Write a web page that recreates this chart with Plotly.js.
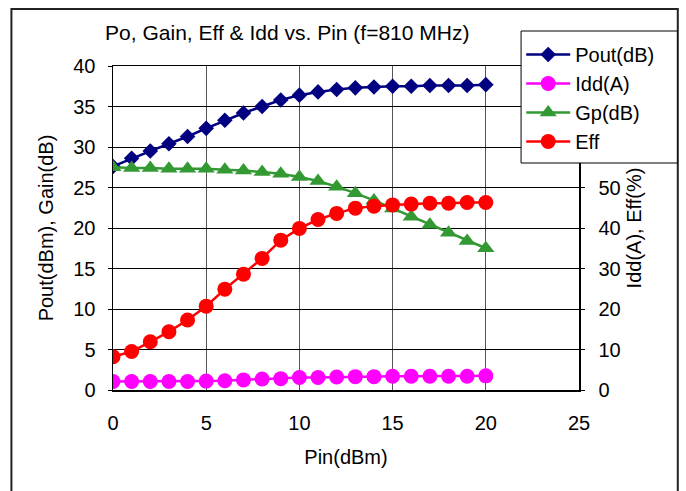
<!DOCTYPE html>
<html>
<head>
<meta charset="utf-8">
<script src="https://cdn.plot.ly/plotly-3.0.1.min.js"></script>
<style>
  html, body { margin: 0; padding: 0; background: #fff; }
  #chart { width: 686px; height: 491px; }
</style>
</head>
<body>
<div id="chart"></div>
<script>
// Data
const pin  = [0,1,2,3,4,5,6,7,8,9,10,11,12,13,14,15,16,17,18,19,20];
const pout = [27.6,28.6,29.5,30.4,31.3,32.3,33.3,34.2,35.0,35.8,36.4,36.8,37.1,37.3,37.4,37.5,37.5,37.6,37.6,37.6,37.7];
const idd  = [2.1,2.1,2.1,2.1,2.1,2.2,2.3,2.5,2.7,2.8,3.1,3.1,3.2,3.3,3.3,3.4,3.4,3.4,3.4,3.4,3.5];
const gp   = [27.5,27.4,27.4,27.3,27.3,27.3,27.2,27.1,26.9,26.7,26.3,25.8,25.1,24.3,23.4,22.4,21.4,20.4,19.4,18.4,17.5];
const eff  = [8.2,9.5,11.9,14.4,17.3,20.7,24.9,28.6,32.5,37.0,39.9,42.1,43.6,44.9,45.4,45.7,45.9,46.1,46.1,46.3,46.3];
// right-axis labels visible in the reference (60-80 are hidden by the legend)
const y2TickVals = [0,10,20,30,40,50];

const FONT = 'Liberation Sans, Arial, sans-serif';

const traces = [
  {x: pin, y: pout, name: 'Pout(dB)', type: 'scatter', mode: 'lines+markers', yaxis: 'y',
   line: {color: '#000080', width: 2.5}, marker: {symbol: 'diamond', size: 12, color: '#000080'}},
  {x: pin, y: idd, name: 'Idd(A)', type: 'scatter', mode: 'lines+markers', yaxis: 'y2',
   line: {color: '#FF00FF', width: 2.5}, marker: {symbol: 'circle', size: 15, color: '#FF00FF'}},
  {x: pin, y: gp, name: 'Gp(dB)', type: 'scatter', mode: 'lines+markers', yaxis: 'y',
   line: {color: '#339933', width: 2.5}, marker: {symbol: 'triangle-up', size: 15, color: '#339933'}},
  {x: pin, y: eff, name: 'Eff', type: 'scatter', mode: 'lines+markers', yaxis: 'y2',
   line: {color: '#FF0000', width: 2.5}, marker: {symbol: 'circle', size: 15, color: '#FF0000'}}
];

const layout = {
  width: 686, height: 491,
  margin: {l: 113, r: 107, t: 66, b: 101, pad: 0},
  paper_bgcolor: '#fff', plot_bgcolor: '#fff',
  font: {family: FONT, size: 20, color: '#000'},
  showlegend: true,
  title: {text: 'Po, Gain, Eff & Idd vs. Pin (f=810 MHz)', font: {size: 21, family: FONT, color: '#000'},
          xref: 'paper', x: 0.374, xanchor: 'center', yref: 'container', y: 0.933, yanchor: 'middle'},
  xaxis: {
    range: [0, 25], dtick: 5, tick0: 0,
    showgrid: true, gridcolor: '#555', gridwidth: 1,
    showline: true, linecolor: '#000', linewidth: 1.5, mirror: true,
    ticks: '', ticklabelstandoff: 14, zeroline: false,
    title: {text: 'Pin(dBm)', font: {size: 20}, standoff: 17}
  },
  yaxis: {
    range: [0, 40], dtick: 5, tick0: 0,
    showgrid: true, gridcolor: '#000', gridwidth: 1,
    showline: true, linecolor: '#000', linewidth: 1.5,
    ticks: 'outside', ticklen: 4, tickcolor: '#000', ticklabelstandoff: 8, zeroline: false,
    title: {text: 'Pout(dBm), Gain(dB)', font: {size: 20}, standoff: 14}
  },
  yaxis2: {
    range: [0, 80], tickmode: 'array', tickvals: y2TickVals,
    overlaying: 'y', side: 'right',
    showgrid: false, showline: true, linecolor: '#000', linewidth: 1.5,
    ticks: 'outside', ticklen: 4, tickcolor: '#000', ticklabelstandoff: 10, zeroline: false,
    title: {text: 'Idd(A), Eff(%)', font: {size: 20}}
  },
  legend: {
    x: 0.876, xanchor: 'left', xref: 'paper',
    y: 1.0957, yanchor: 'top', yref: 'paper',
    bgcolor: 'rgba(0,0,0,0)', borderwidth: 0,
    font: {size: 20, family: FONT},
    itemwidth: 44,
    traceorder: 'normal'
  },
  shapes: [
    // outer chart border
    {type: 'rect', xref: 'paper', yref: 'paper', x0: -0.218, x1: 1.212, y0: -0.36, y1: 1.176,
     line: {color: '#222', width: 2}, fillcolor: 'rgba(0,0,0,0)', layer: 'below'},
    // legend box
    {type: 'rect', xref: 'paper', yref: 'paper', x0: 0.8757, x1: 1.211, y0: 0.7006, y1: 1.108,
     line: {color: '#000', width: 1}, fillcolor: '#fff', layer: 'above'}
  ]
};

Plotly.newPlot('chart', traces, layout, {displayModeBar: false, staticPlot: true});
</script>
</body>
</html>
